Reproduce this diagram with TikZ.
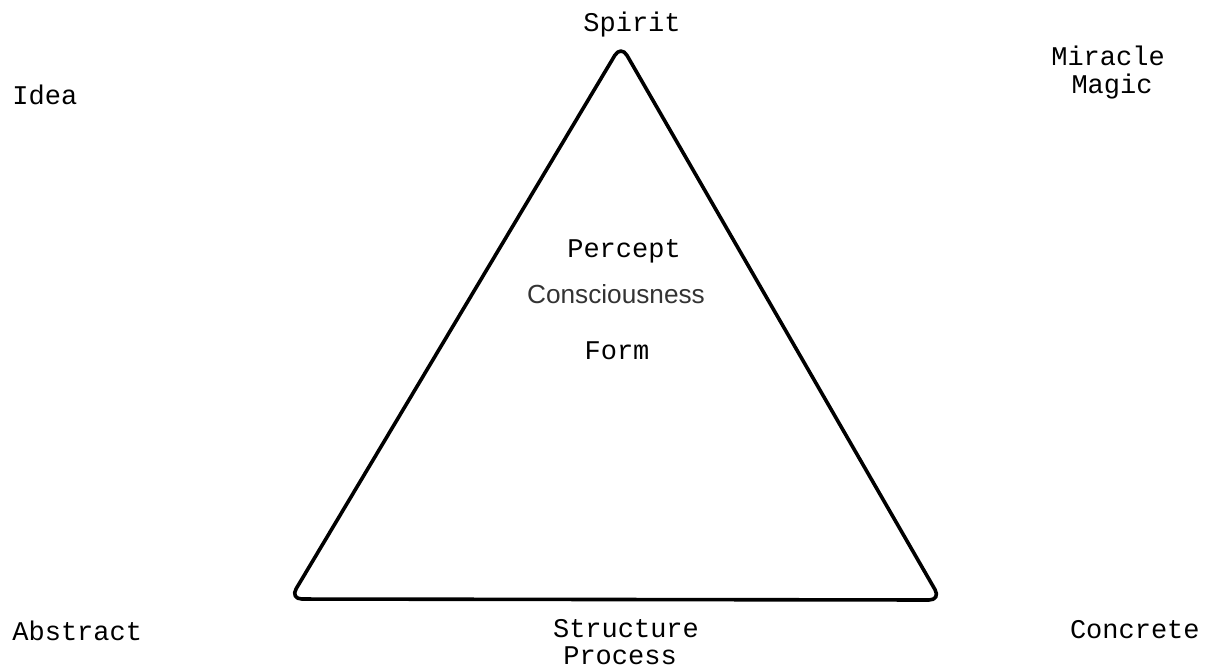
\documentclass[tikz,border=0pt]{standalone}
\usepackage{fontspec}
\setmonofont{Liberation Mono}
\setsansfont{Liberation Sans}
\begin{document}
\begin{tikzpicture}[x=0.5pt,y=-0.5pt,
  lbl/.style={font=\ttfamily\fontsize{13.5}{15}\selectfont, anchor=base, inner sep=0pt},
  cons/.style={font=\sffamily\fontsize{13.1}{15}\selectfont, text=black!80, anchor=base, inner sep=0pt},
  tri/.style={line width=1.8pt, rounded corners=6pt, line join=round}]
\useasboundingbox (0,0) rectangle (1213,671);
\coordinate (top) at (621,45);
\coordinate (bl) at (290,599);
\coordinate (br) at (941,600);
\draw[tri] (top) -- (br) -- (bl) -- cycle;
\node[lbl] (spirit) at (632,31) {Spirit};
\node[lbl, anchor=base west] (idea) at (12,104) {Idea};
\node[lbl] (miracle) at (1108,65) {Miracle};
\node[lbl] (magic) at (1112,93) {Magic};
\node[lbl] (percept) at (624,257) {Percept};
\node[cons] (consc) at (616,303) {Consciousness};
\node[lbl] (form) at (617,359) {Form};
\node[lbl, anchor=base west] (abstract) at (12,640) {Abstract};
\node[lbl] (structure) at (626,637) {Structure};
\node[lbl] (process) at (620,664) {Process};
\node[lbl, anchor=base east] (concrete) at (1200,638) {Concrete};
\end{tikzpicture}
\end{document}
